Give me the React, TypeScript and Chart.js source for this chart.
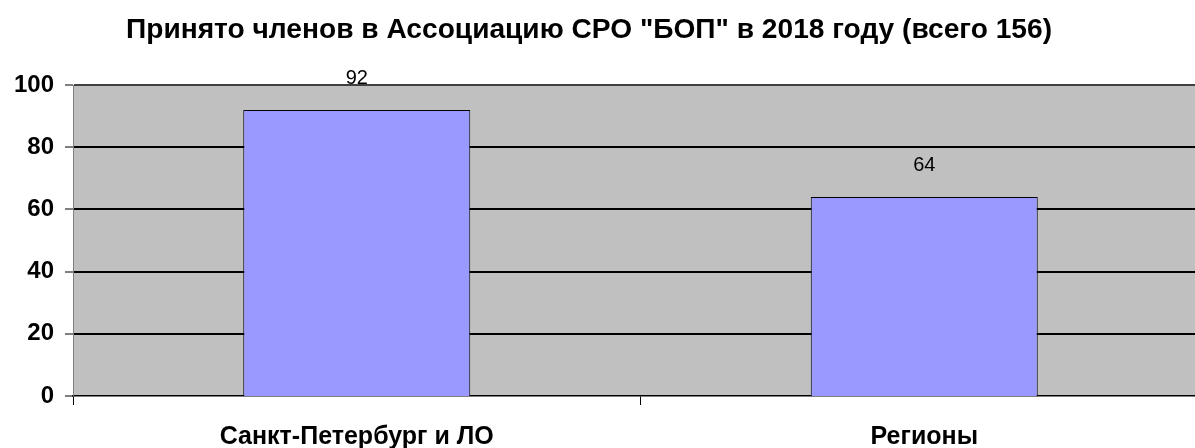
import React, { useEffect, useRef } from "react";
import { Chart, registerables } from "chart.js";

Chart.register(...registerables);

const categories = ["Санкт-Петербург и ЛО", "Регионы"];
const members = [92, 64];
const yTicks = [0, 20, 40, 60, 80, 100];
const titleText = 'Принято членов в Ассоциацию СРО "БОП" в 2018 году (всего 156)';

const FONT = "'Liberation Sans', Arial, sans-serif";

export default function App() {
  const ref = useRef<HTMLCanvasElement | null>(null);

  useEffect(() => {
    if (!ref.current) return;
    const bgPlugin = {
      id: "plotBg",
      beforeDraw(chart: any) {
        const { ctx, chartArea } = chart;
        ctx.save();
        ctx.fillStyle = "#C0C0C0";
        ctx.fillRect(chartArea.left, chartArea.top, chartArea.right - chartArea.left, chartArea.bottom - chartArea.top);
        ctx.restore();
      },
      afterDraw(chart: any) {
        const { ctx } = chart;
        ctx.save();
        ctx.fillStyle = "#000";
        ctx.font = `bold 27px ${FONT}`;
        ctx.textAlign = "left";
        ctx.textBaseline = "alphabetic";
        const w = ctx.measureText(titleText).width;
        const target = 926;
        const sx = Math.min(1.08, Math.max(0.95, target / w));
        ctx.translate(126, 38);
        ctx.scale(sx, 1);
        ctx.fillText(titleText, 0, 0);
        ctx.restore();
      },
      afterDatasetsDraw(chart: any) {
        const { ctx } = chart;
        const meta = chart.getDatasetMeta(0);
        ctx.save();
        ctx.fillStyle = "#000";
        ctx.font = `20px ${FONT}`;
        ctx.textAlign = "center";
        ctx.textBaseline = "middle";
        meta.data.forEach((el: any, i: number) => {
          ctx.fillText(String(members[i]), el.x, el.y - 31);
        });
        ctx.restore();
      },
    };

    const chart = new Chart(ref.current, {
      type: "bar",
      data: {
        labels: categories,
        datasets: [
          {
            data: members,
            backgroundColor: "#9999FF",
            borderColor: "#000000",
            borderWidth: 1,
            barPercentage: 0.4,
            categoryPercentage: 1,
          },
        ],
      },
      options: {
        responsive: false,
        animation: false,
        layout: { padding: { top: 85, right: 7, left: 0, bottom: 0 } },
        plugins: {
          legend: { display: false },
          title: { display: false },
          tooltip: { enabled: false },
        },
        scales: {
          x: {
            offset: true,
            grid: {
              offset: true,
              drawOnChartArea: false,
              drawTicks: true,
              tickLength: 9,
              tickColor: "#000",
              tickWidth: 1,
            },
            border: { display: true, color: "#000", width: 1.5 },
            ticks: {
              color: "#000",
              font: { family: FONT, size: 25, weight: "bold" },
              padding: 17,
              maxRotation: 0,
            },
            afterFit(scale: any) {
              scale.height = 52;
            },
          },
          y: {
            min: 0,
            max: 100,
            afterBuildTicks(scale: any) {
              scale.ticks = yTicks.map((v) => ({ value: v }));
            },
            grid: {
              color: (c: any) => (c.tick && c.tick.value === 100 ? "#404040" : "#000"),
              lineWidth: (c: any) => (c.tick && c.tick.value === 0 ? 0 : 2),
              tickLength: 8,
              tickColor: "#000",
              tickWidth: 1,
            },
            border: { display: true, color: "#808080", width: 1 },
            ticks: {
              color: "#000",
              font: { family: FONT, size: 24, weight: "bold" },
              padding: 11,
            },
            afterFit(scale: any) {
              scale.width = 73;
            },
          },
        },
      },
      plugins: [bgPlugin],
    } as any);
    return () => chart.destroy();
  }, []);

  return (
    <div style={{ position: "fixed", left: 0, top: 0, width: 1195, height: 448, overflow: "hidden", background: "#fff" }}>
      <canvas ref={ref} width={1215} height={448} style={{ display: "block", width: 1215, height: 448 }} />
    </div>
  );
}
